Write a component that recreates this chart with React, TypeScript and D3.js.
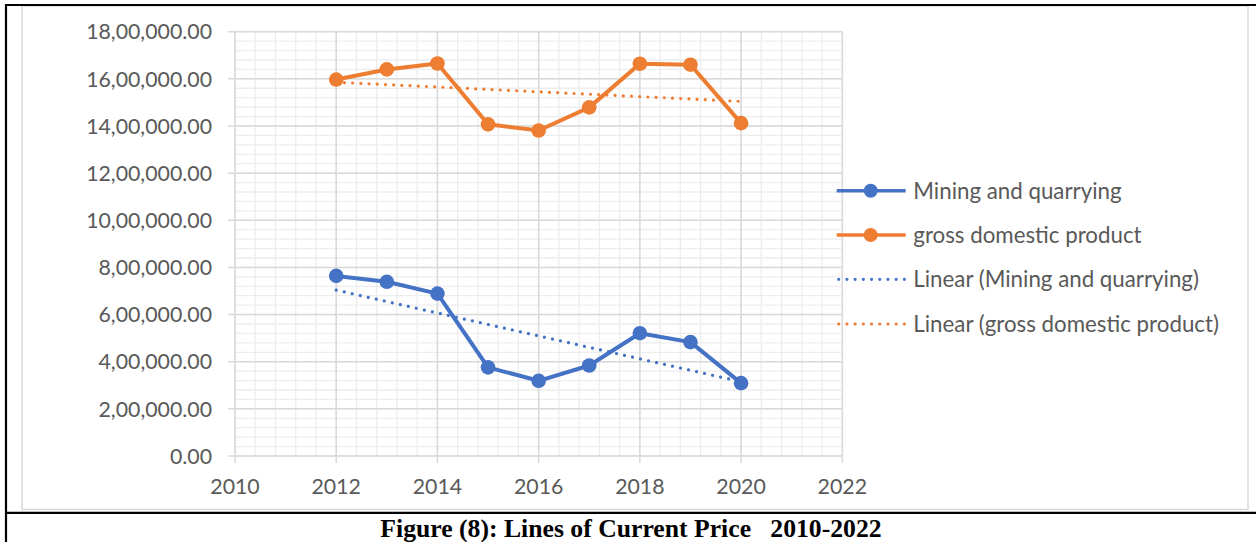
import React from "react";
import * as d3 from "d3";

// Series data (current price)
const years = [2012, 2013, 2014, 2015, 2016, 2017, 2018, 2019, 2020];
const miningValues = [764000, 739000, 689000, 376000, 319000, 384000, 521000, 483000, 309000];
const gdpValues = [1597000, 1640000, 1665000, 1407000, 1381000, 1479000, 1664000, 1660000, 1412000];

const xTicks = [2010, 2012, 2014, 2016, 2018, 2020, 2022];
const yTicks = [0, 200000, 400000, 600000, 800000, 1000000, 1200000, 1400000, 1600000, 1800000];

const seriesNames = ["Mining and quarrying", "gross domestic product"];
const trendNames = ["Linear (Mining and quarrying)", "Linear (gross domestic product)"];
const caption = "Figure (8): Lines of Current Price   2010-2022";

const BLUE = "#4472C4";
const ORANGE = "#ED7D31";
const TEXT = "#595959";
const MAJOR = "#d9d9d9";
const MINOR = "#ededed";
const FONT = "Lato, 'Noto Sans', sans-serif";

// Indian digit grouping: 18,00,000.00
function lakhFormat(v: number): string {
  const s = Math.round(v).toString();
  if (s.length <= 3) return s + ".00";
  const last3 = s.slice(-3);
  let rest = s.slice(0, -3);
  const groups: string[] = [];
  while (rest.length > 2) {
    groups.unshift(rest.slice(-2));
    rest = rest.slice(0, -2);
  }
  if (rest.length) groups.unshift(rest);
  return groups.join(",") + "," + last3 + ".00";
}

// Least-squares linear trend evaluated at the first and last year
function linearTrend(xs: number[], ys: number[]): [number, number][] {
  const mx = d3.mean(xs) as number;
  const my = d3.mean(ys) as number;
  let num = 0;
  let den = 0;
  xs.forEach((x, i) => {
    num += (x - mx) * (ys[i] - my);
    den += (x - mx) * (x - mx);
  });
  const slope = num / den;
  const b = my - slope * mx;
  const x0 = xs[0];
  const x1 = xs[xs.length - 1];
  return [
    [x0, slope * x0 + b],
    [x1, slope * x1 + b],
  ];
}

export default function App() {
  const W = 1256;
  const H = 542;

  const x = d3.scaleLinear().domain([2010, 2022]).range([235, 842.3]);
  const y = d3.scaleLinear().domain([0, 1800000]).range([456, 31.7]);

  const minorX = d3.range(0, 31).map((i) => 2010 + i * 0.4);
  const minorY = d3.range(0, 46).map((i) => i * 40000);

  const line = d3
    .line<[number, number]>()
    .x((d) => x(d[0]))
    .y((d) => y(d[1]));

  const miningPts: [number, number][] = years.map((yr, i) => [yr, miningValues[i]]);
  const gdpPts: [number, number][] = years.map((yr, i) => [yr, gdpValues[i]]);
  const miningTrend = linearTrend(years, miningValues);
  const gdpTrend = linearTrend(years, gdpValues);

  const dotted = { strokeWidth: 3.2, strokeDasharray: "0.01 8.2", strokeLinecap: "round" as const };

  const legendX = 836.7;
  const legendRows = [190.7, 235, 279.3, 324];

  return (
    <svg
      width={W}
      height={H}
      style={{ position: "absolute", left: 0, top: 0, background: "#fff" }}
    >
      {/* chart area */}
      <rect x={22} y={6} width={1226} height={503.5} fill="#fff" stroke={MAJOR} strokeWidth={1.5} />

      {/* minor gridlines */}
      <g stroke={MINOR} strokeWidth={1.3}>
        {minorX.map((v, i) => (
          <line key={"mx" + i} x1={x(v)} x2={x(v)} y1={y(1800000)} y2={y(0)} />
        ))}
        {minorY.map((v, i) => (
          <line key={"my" + i} x1={x(2010)} x2={x(2022)} y1={y(v)} y2={y(v)} />
        ))}
      </g>

      {/* major gridlines */}
      <g stroke={MAJOR} strokeWidth={1.5}>
        {xTicks.map((v) => (
          <line key={"gx" + v} x1={x(v)} x2={x(v)} y1={y(1800000)} y2={y(0) + 7} />
        ))}
        {yTicks.map((v) => (
          <line key={"gy" + v} x1={x(2010) - 7} x2={x(2022)} y1={y(v)} y2={y(v)} />
        ))}
      </g>

      {/* axis labels */}
      <g fontFamily={FONT} fontSize={21.3} fill={TEXT}>
        {yTicks.map((v) => (
          <text key={"ty" + v} x={212} y={y(v)} dy="0.36em" textAnchor="end">
            {lakhFormat(v)}
          </text>
        ))}
        {xTicks.map((v) => (
          <text key={"tx" + v} x={x(v)} y={494} textAnchor="middle">
            {v}
          </text>
        ))}
      </g>

      {/* trendlines */}
      <path d={line(miningTrend) || ""} fill="none" stroke={BLUE} {...dotted} />
      <path d={line(gdpTrend) || ""} fill="none" stroke={ORANGE} {...dotted} />

      {/* series */}
      <path d={line(miningPts) || ""} fill="none" stroke={BLUE} strokeWidth={4} strokeLinejoin="round" />
      {miningPts.map((p, i) => (
        <circle key={"mp" + i} cx={x(p[0])} cy={y(p[1])} r={7.3} fill={BLUE} />
      ))}
      <path d={line(gdpPts) || ""} fill="none" stroke={ORANGE} strokeWidth={4} strokeLinejoin="round" />
      {gdpPts.map((p, i) => (
        <circle key={"gp" + i} cx={x(p[0])} cy={y(p[1])} r={7.3} fill={ORANGE} />
      ))}

      {/* legend */}
      <g fontFamily={FONT} fontSize={22.3} fill={TEXT}>
        {[BLUE, ORANGE].map((c, i) => (
          <g key={"ls" + i}>
            <line x1={legendX} x2={legendX + 69} y1={legendRows[i]} y2={legendRows[i]} stroke={c} strokeWidth={3.5} />
            <circle cx={legendX + 34} cy={legendRows[i]} r={7} fill={c} />
            <text x={913.3} y={legendRows[i]} dy="0.36em">{seriesNames[i]}</text>
          </g>
        ))}
        {[BLUE, ORANGE].map((c, i) => (
          <g key={"lt" + i}>
            <line
              x1={legendX + 2}
              x2={legendX + 69}
              y1={legendRows[i + 2]}
              y2={legendRows[i + 2]}
              stroke={c}
              {...dotted}
            />
            <text x={913.3} y={legendRows[i + 2]} dy="0.36em">{trendNames[i]}</text>
          </g>
        ))}
      </g>

      {/* table frame */}
      <g stroke="#000">
        <line x1={5} x2={W} y1={5} y2={5} strokeWidth={2.2} />
        <line x1={6} x2={6} y1={4} y2={H} strokeWidth={2.2} />
        <line x1={5} x2={W} y1={512.8} y2={512.8} strokeWidth={2.2} />
      </g>

      {/* caption */}
      <text
        x={631}
        y={537.3}
        textAnchor="middle"
        fontFamily="'Liberation Serif', 'Times New Roman', serif"
        fontWeight="bold"
        fontSize={25.7}
        fill="#000"
        style={{ whiteSpace: "pre" }}
      >
        {caption}
      </text>
    </svg>
  );
}
